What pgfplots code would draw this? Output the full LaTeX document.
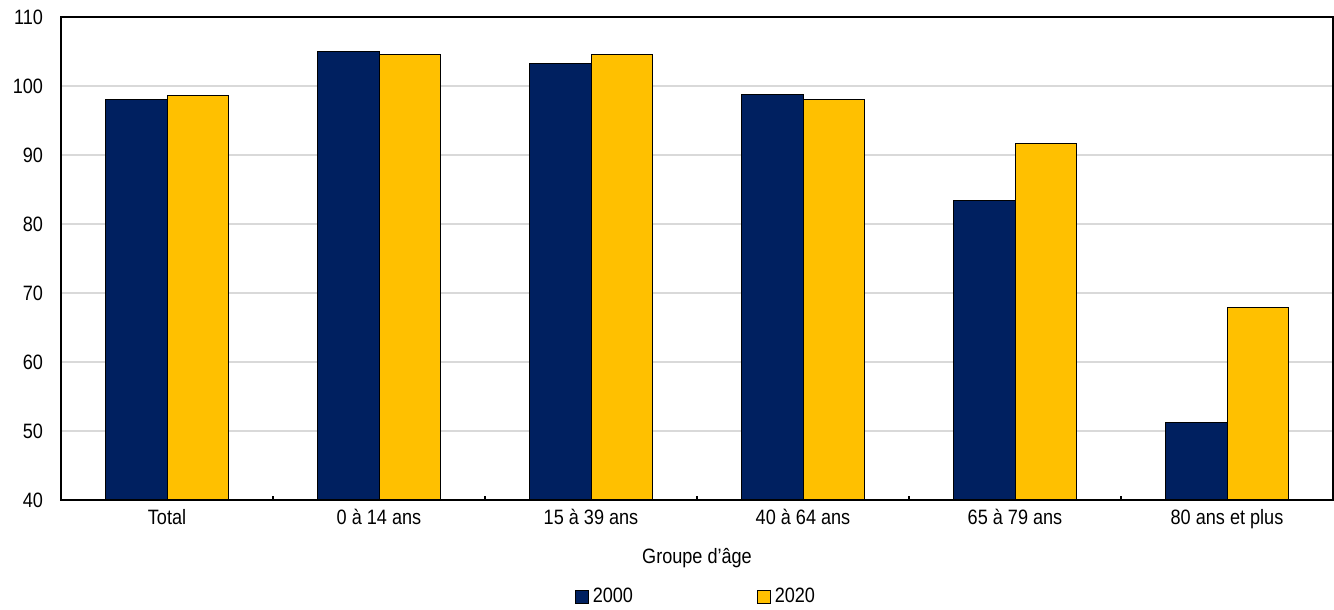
\documentclass[border=0pt]{standalone}
\usepackage{fontspec}
\setmainfont{Liberation Sans}[FakeStretch=0.87]
\usepackage{pgfplots}
\pgfplotsset{compat=1.18}
\definecolor{navy}{HTML}{002060}
\definecolor{gold}{HTML}{FFC000}
\definecolor{gridgray}{HTML}{D9D9D9}
\newcommand\ff{\fontsize{10.4bp}{12.5bp}\selectfont}
\begin{document}
\begin{tikzpicture}[font=\ff]
\begin{axis}[name=ax, scale only axis, width=636bp, height=241.5bp,
  xmin=-0.5, xmax=5.5, ymin=40, ymax=110,
  ytick={40,50,...,110},
  xtick={0,1,2,3,4,5},
  xticklabels={Total, 0 à 14 ans, 15 à 39 ans, 40 à 64 ans, 65 à 79 ans, 80 ans et plus},
  minor xtick={0.5,1.5,2.5,3.5,4.5},
  major tick length=0pt, minor tick length=2.2bp, tick align=inside,
  xtick pos=bottom, ytick pos=left,
  axis line style={black, line width=0.75bp},
  ymajorgrids, grid style={gridgray, line width=0.6bp},
  minor tick style={black, line width=0.6bp},
  /pgf/number format/assume math mode=true,
  yticklabel style={font=\ff, xshift=-5.5bp},
  xticklabel style={font=\ff, yshift=-1bp},
  xlabel={Groupe d'âge}, xlabel style={font=\ff, at={(axis description cs:0.5,0)}, anchor=center, yshift=-29bp},
  legend columns=2,
  legend style={draw=none, font=\ff, at={(0.5,0)}, anchor=center, yshift=-48.5bp,
    /tikz/every even column/.append style={column sep=60bp},
    inner sep=0pt},
  legend image code/.code={\draw[#1, draw=black, line width=0.5bp] (0bp,-3.2bp) rectangle (6.4bp,3.2bp);},
]
\addplot[ybar, bar width=0.288, bar shift=-0.144, fill=navy, draw=black, line width=0.5bp]
  coordinates {(0,98.1) (1,104.95) (2,103.2) (3,98.7) (4,83.45) (5,51.3)};
\addlegendentry{2000}
\addplot[ybar, bar width=0.288, bar shift=0.144, fill=gold, draw=black, line width=0.5bp]
  coordinates {(0,98.65) (1,104.55) (2,104.6) (3,98.1) (4,91.6) (5,67.9)};
\addlegendentry{2020}
\end{axis}
\path ([shift={(-30.5bp,-54.5bp)}]ax.south west) rectangle ([shift={(0.5bp,8.5bp)}]ax.north east);
\end{tikzpicture}
\end{document}
